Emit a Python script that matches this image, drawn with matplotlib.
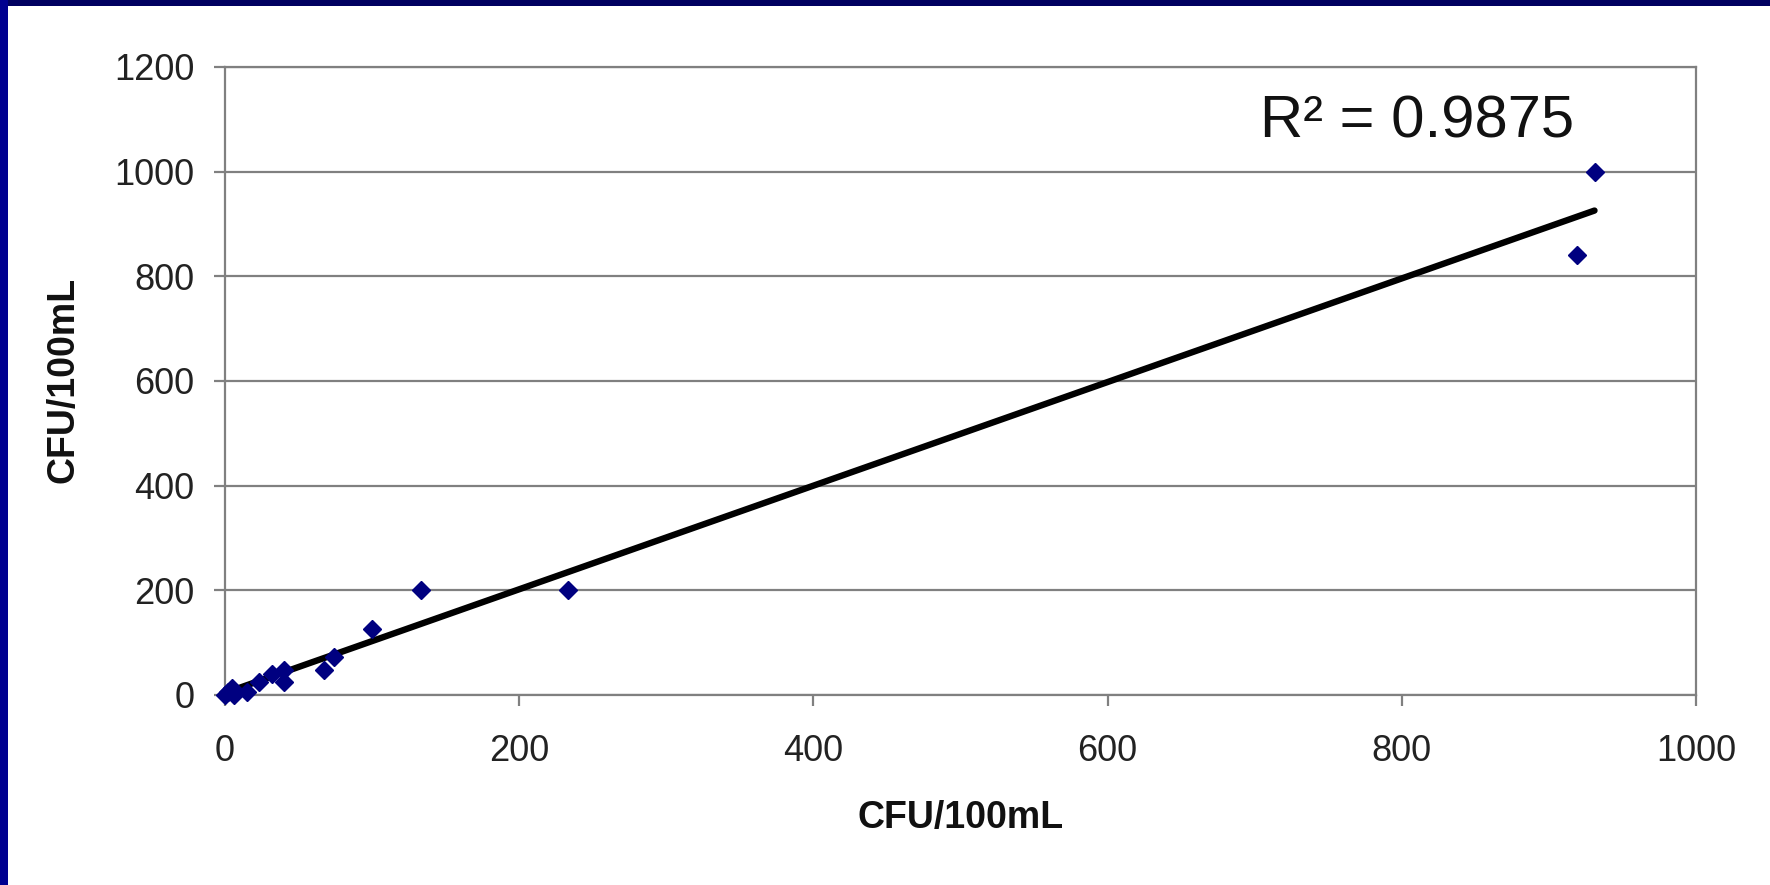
import matplotlib.pyplot as plt
from matplotlib.patches import Rectangle
import numpy as np

plt.rcParams['font.family'] = ['Liberation Sans', 'DejaVu Sans']

# measured values (x = one method, y = other method), CFU/100mL
x_cfu = [0, 2, 5, 6, 15, 23, 32, 40, 40, 67, 74, 100, 133, 233, 919, 931]
y_cfu = [0, 5, 13, 0, 6, 25, 41, 48, 24, 48, 73, 126, 200, 200, 840, 1000]

# trendline
slope = 0.99
intercept = 4
r2_text = 'R² = 0.9875'

x_ticks = [0, 200, 400, 600, 800, 1000]
y_ticks = [0, 200, 400, 600, 800, 1000, 1200]

W, H = 1770, 885
fig = plt.figure(figsize=(W/100, H/100), dpi=100)
fig.patch.set_facecolor('white')
ax = fig.add_axes([225/W, 1-695/H, (1696-225)/W, (695-67)/H])

# trendline over the data range
xl = np.array([min(x_cfu), max(x_cfu)])
ax.plot(xl, slope*xl + intercept, color='black', linewidth=4.6, zorder=3, solid_capstyle='round')
ax.plot(x_cfu, y_cfu, linestyle='none', marker='D', markersize=9.5,
        color='#000080', zorder=4, clip_on=False)

ax.set_xlim(0, 1000)
ax.set_ylim(0, 1200)
ax.set_xticks(x_ticks)
ax.set_yticks(y_ticks)
ax.yaxis.grid(True, color='#808080', linewidth=1.6)
ax.set_axisbelow(True)
for s in ax.spines.values():
    s.set_color('#808080')
    s.set_linewidth(1.6)
ax.tick_params(axis='both', direction='out', length=8, width=1.6, color='#808080',
               labelsize=26, labelcolor='#222222')
ax.tick_params(axis='x', pad=20)
ax.tick_params(axis='y', pad=14)

ax.set_xlabel('CFU/100mL', fontsize=27, fontweight='bold', color='#111111')
ax.set_ylabel('CFU/100mL', fontsize=27, fontweight='bold', color='#111111')
ax.xaxis.set_label_coords((961-225)/(1696-225), -(800-695)/(695-67))
ax.yaxis.set_label_coords(-(225-82)/(1696-225), (695-380)/(695-67))

fig.text(1260/W, 1-137/H, r2_text, fontsize=43, color='#111111',
         ha='left', va='baseline')

# slide border: navy on top and left
fig.patches.append(Rectangle((0, 1-6/H), 1, 6/H, transform=fig.transFigure,
                             facecolor='#000060', edgecolor='none'))
fig.patches.append(Rectangle((0, 0), 8/W, 1, transform=fig.transFigure,
                             facecolor='#000090', edgecolor='none'))

fig.savefig('out.png', dpi=100, facecolor='white')
